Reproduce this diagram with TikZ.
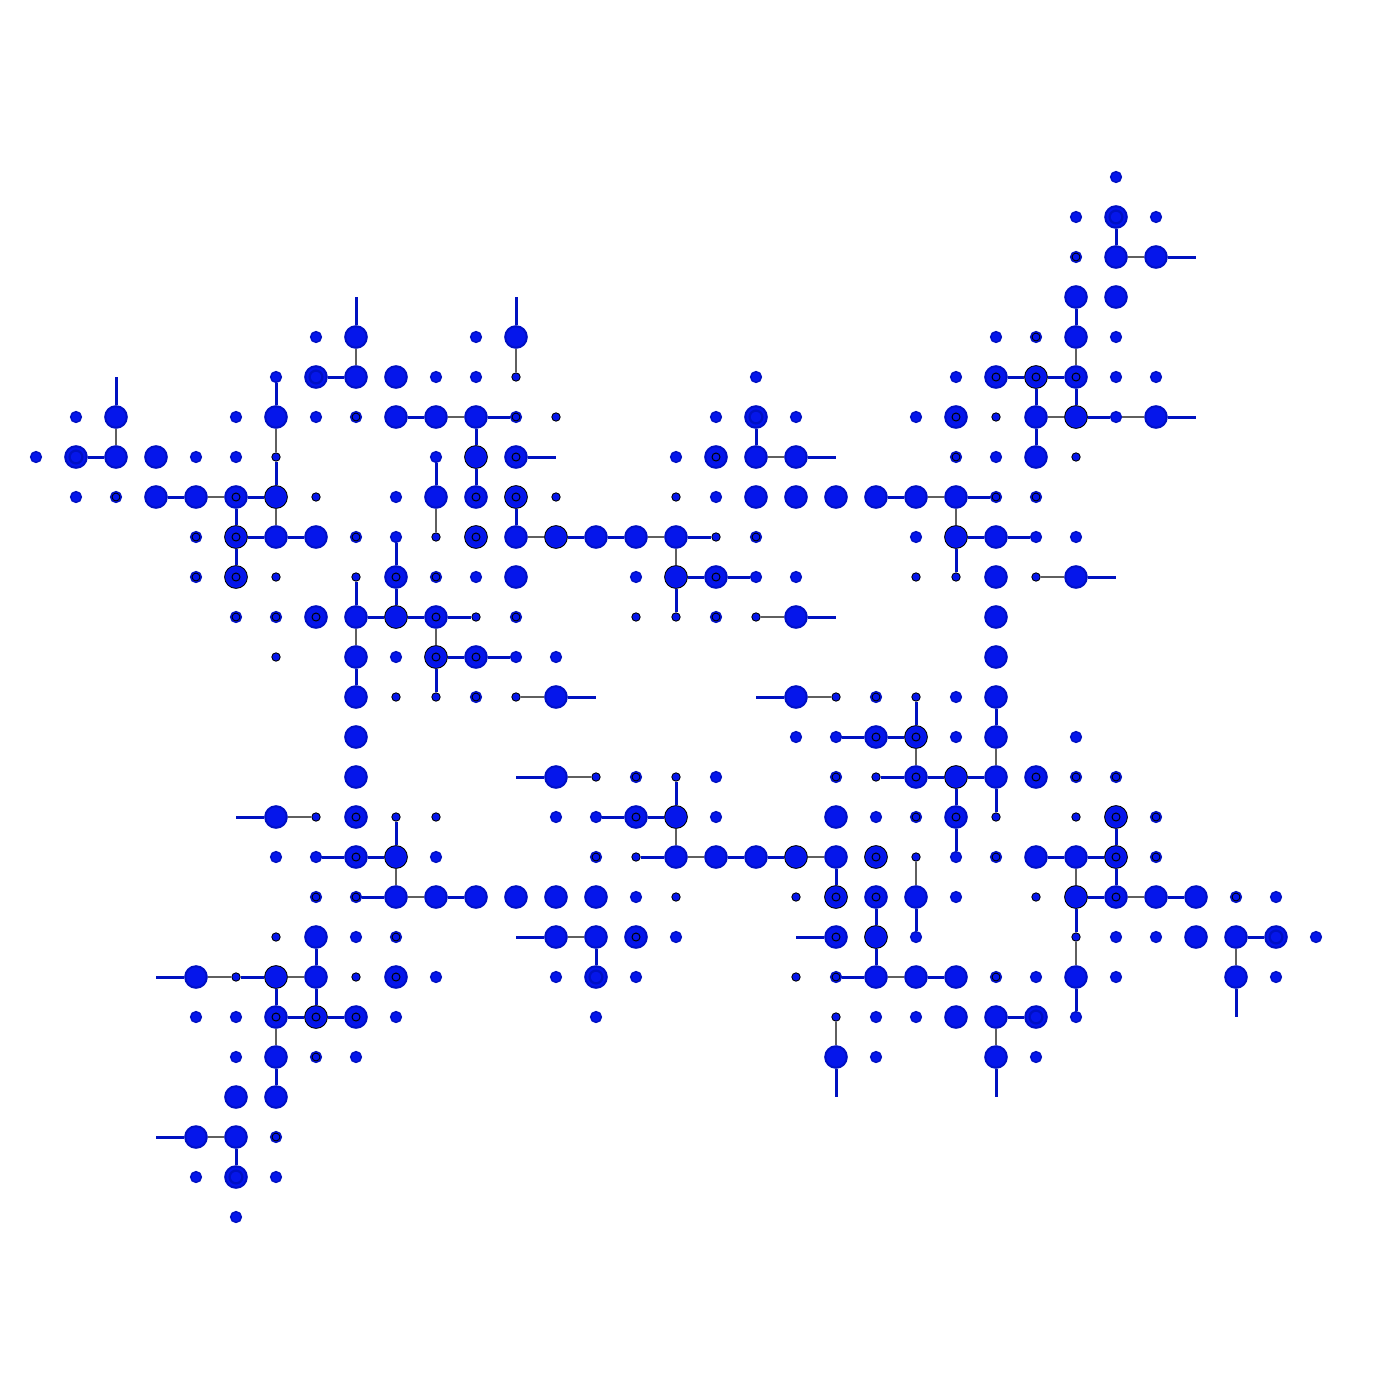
\documentclass[tikz,border=0pt]{standalone}
\usepackage{xcolor}
\usepackage{tikz}
\definecolor{dotBlue}{RGB}{5, 22, 235}
\definecolor{rimBlue}{RGB}{0, 16, 196}
\definecolor{linkBlue}{RGB}{0, 18, 192}
\definecolor{linkGray}{RGB}{95, 95, 95}

\tikzset{
    dot/.style={circle, inner sep=0pt, fill=dotBlue},
    dotL/.style={dot, draw=rimBlue, line width=0.05cm, minimum size=0.54cm},
    dotK/.style={dot, draw=black, line width=0.6pt, minimum size=0.57cm},
    dotS/.style={dot, draw=rimBlue, line width=0.035cm, minimum size=0.27cm},
    dotT/.style={dot, draw=black, line width=0.6pt, minimum size=0.21cm},
    ringed/.style={path picture={\draw[black, line width=0.7pt] (path picture bounding box.center) circle (0.1cm);}},
    dotLo/.style={dotL, ringed},
    dotKo/.style={dotK, ringed},
    dotR/.style={dotS, ringed},
    dotLb/.style={dotL, path picture={\draw[rimBlue, line width=1.6pt] (path picture bounding box.center) circle (0.16cm);}},
    bluelink/.style={linkBlue, line width=0.075cm},
    graylink/.style={linkGray, line width=0.035cm}
}

\begin{document}
\begin{tikzpicture}[x=1cm, y=-1cm]
    \fill[white] (-0.9,-4.425) rectangle (33.925,30.35);
    \foreach \c/\r/\k in {
        27/0/dotS,
        26/1/dotS, 27/1/dotLb, 28/1/dotS,
        26/2/dotR, 27/2/dotL, 28/2/dotL,
        26/3/dotL, 27/3/dotL,
        7/4/dotS, 8/4/dotL, 11/4/dotS, 12/4/dotL, 24/4/dotS, 25/4/dotR, 26/4/dotL, 27/4/dotS,
        6/5/dotS, 7/5/dotLb, 8/5/dotL, 9/5/dotL, 10/5/dotS, 11/5/dotS, 12/5/dotT, 18/5/dotS, 23/5/dotS, 24/5/dotLo, 25/5/dotKo, 26/5/dotLo, 27/5/dotS, 28/5/dotS,
        1/6/dotS, 2/6/dotL, 5/6/dotS, 6/6/dotL, 7/6/dotS, 8/6/dotR, 9/6/dotL, 10/6/dotL, 11/6/dotL, 12/6/dotR, 13/6/dotT, 17/6/dotS, 18/6/dotLb, 19/6/dotS, 22/6/dotS, 23/6/dotLo, 24/6/dotT, 25/6/dotL, 26/6/dotK, 27/6/dotS, 28/6/dotL,
        0/7/dotS, 1/7/dotLb, 2/7/dotL, 3/7/dotL, 4/7/dotS, 5/7/dotS, 6/7/dotT, 10/7/dotS, 11/7/dotK, 12/7/dotLo, 16/7/dotS, 17/7/dotLo, 18/7/dotL, 19/7/dotL, 23/7/dotR, 24/7/dotS, 25/7/dotL, 26/7/dotT,
        1/8/dotS, 2/8/dotR, 3/8/dotL, 4/8/dotL, 5/8/dotLo, 6/8/dotK, 7/8/dotT, 9/8/dotS, 10/8/dotL, 11/8/dotLo, 12/8/dotKo, 13/8/dotT, 16/8/dotT, 17/8/dotS, 18/8/dotL, 19/8/dotL, 20/8/dotL, 21/8/dotL, 22/8/dotL, 23/8/dotL, 24/8/dotR, 25/8/dotR,
        4/9/dotR, 5/9/dotKo, 6/9/dotL, 7/9/dotL, 8/9/dotR, 9/9/dotS, 10/9/dotT, 11/9/dotKo, 12/9/dotL, 13/9/dotK, 14/9/dotL, 15/9/dotL, 16/9/dotL, 17/9/dotT, 18/9/dotR, 22/9/dotS, 23/9/dotK, 24/9/dotL, 25/9/dotS, 26/9/dotS,
        4/10/dotR, 5/10/dotKo, 6/10/dotT, 8/10/dotT, 9/10/dotLo, 10/10/dotR, 11/10/dotS, 12/10/dotL, 15/10/dotS, 16/10/dotK, 17/10/dotLo, 18/10/dotS, 19/10/dotS, 22/10/dotT, 23/10/dotT, 24/10/dotL, 25/10/dotT, 26/10/dotL,
        5/11/dotR, 6/11/dotR, 7/11/dotLo, 8/11/dotL, 9/11/dotK, 10/11/dotLo, 11/11/dotT, 12/11/dotR, 15/11/dotT, 16/11/dotT, 17/11/dotR, 18/11/dotT, 19/11/dotL, 24/11/dotL,
        6/12/dotT, 8/12/dotL, 9/12/dotS, 10/12/dotKo, 11/12/dotLo, 12/12/dotS, 13/12/dotS, 24/12/dotL,
        8/13/dotL, 9/13/dotT, 10/13/dotT, 11/13/dotR, 12/13/dotT, 13/13/dotL, 19/13/dotL, 20/13/dotT, 21/13/dotR, 22/13/dotT, 23/13/dotS, 24/13/dotL,
        8/14/dotL, 19/14/dotS, 20/14/dotS, 21/14/dotLo, 22/14/dotKo, 23/14/dotS, 24/14/dotL, 26/14/dotS,
        8/15/dotL, 13/15/dotL, 14/15/dotT, 15/15/dotR, 16/15/dotT, 17/15/dotS, 20/15/dotR, 21/15/dotT, 22/15/dotLo, 23/15/dotK, 24/15/dotL, 25/15/dotLo, 26/15/dotR, 27/15/dotR,
        6/16/dotL, 7/16/dotT, 8/16/dotLo, 9/16/dotT, 10/16/dotT, 13/16/dotS, 14/16/dotS, 15/16/dotLo, 16/16/dotK, 17/16/dotS, 20/16/dotL, 21/16/dotS, 22/16/dotR, 23/16/dotLo, 24/16/dotT, 26/16/dotT, 27/16/dotKo, 28/16/dotR,
        6/17/dotS, 7/17/dotS, 8/17/dotLo, 9/17/dotK, 10/17/dotS, 14/17/dotR, 15/17/dotT, 16/17/dotL, 17/17/dotL, 18/17/dotL, 19/17/dotK, 20/17/dotL, 21/17/dotKo, 22/17/dotT, 23/17/dotS, 24/17/dotR, 25/17/dotL, 26/17/dotL, 27/17/dotKo, 28/17/dotR,
        7/18/dotR, 8/18/dotR, 9/18/dotL, 10/18/dotL, 11/18/dotL, 12/18/dotL, 13/18/dotL, 14/18/dotL, 15/18/dotS, 16/18/dotT, 19/18/dotT, 20/18/dotKo, 21/18/dotLo, 22/18/dotL, 23/18/dotS, 25/18/dotT, 26/18/dotK, 27/18/dotLo, 28/18/dotL, 29/18/dotL, 30/18/dotR, 31/18/dotS,
        6/19/dotT, 7/19/dotL, 8/19/dotS, 9/19/dotR, 13/19/dotL, 14/19/dotL, 15/19/dotLo, 16/19/dotS, 20/19/dotLo, 21/19/dotK, 22/19/dotS, 26/19/dotT, 27/19/dotS, 28/19/dotS, 29/19/dotL, 30/19/dotL, 31/19/dotLb, 32/19/dotS,
        4/20/dotL, 5/20/dotT, 6/20/dotK, 7/20/dotL, 8/20/dotT, 9/20/dotLo, 10/20/dotS, 13/20/dotS, 14/20/dotLb, 15/20/dotS, 19/20/dotT, 20/20/dotR, 21/20/dotL, 22/20/dotL, 23/20/dotL, 24/20/dotR, 25/20/dotS, 26/20/dotL, 27/20/dotS, 30/20/dotL, 31/20/dotS,
        4/21/dotS, 5/21/dotS, 6/21/dotLo, 7/21/dotKo, 8/21/dotLo, 9/21/dotS, 14/21/dotS, 20/21/dotT, 21/21/dotS, 22/21/dotS, 23/21/dotL, 24/21/dotL, 25/21/dotLb, 26/21/dotS,
        5/22/dotS, 6/22/dotL, 7/22/dotR, 8/22/dotS, 20/22/dotL, 21/22/dotS, 24/22/dotL, 25/22/dotS,
        5/23/dotL, 6/23/dotL,
        4/24/dotL, 5/24/dotL, 6/24/dotR,
        4/25/dotS, 5/25/dotLb, 6/25/dotS,
        5/26/dotS}
        \node[\k] (d-\c-\r) at (\c,\r) {};
    \foreach \c/\r in {8/3, 12/3, 2/5, 13/7, 20/7, 20/11, 29/2, 29/6, 27/10, 14/13, 18/13, 12/15, 5/16, 12/19, 19/19, 20/23, 24/23, 30/21, 3/20, 3/24}
        \coordinate (e-\c-\r) at (\c,\r);
    \foreach \a/\b in {8-4/8-5, 12-4/12-5, 2-6/2-7, 6-6/6-7, 4-8/5-8, 6-8/6-9, 10-6/11-6, 10-8/10-9, 12-9/13-9, 15-9/16-9, 16-9/16-10, 18-7/19-7, 22-8/23-8, 23-8/23-9, 18-11/19-11, 27-2/28-2, 26-4/26-5, 25-6/26-6, 27-6/28-6, 25-10/26-10, 8-11/8-12, 10-11/10-12, 6-16/7-16, 9-17/9-18, 12-13/13-13, 19-13/20-13, 13-15/14-15, 16-16/16-17, 16-17/17-17, 19-17/20-17, 22-14/22-15, 24-14/24-15, 22-17/22-18, 26-17/26-18, 27-18/28-18, 9-18/10-18, 13-19/14-19, 26-19/26-20, 21-20/22-20, 20-21/20-22, 24-21/24-22, 30-19/30-20, 4-20/5-20, 6-20/7-20, 6-21/6-22, 4-24/5-24}
        \draw[graylink] (d-\a) -- (d-\b);
    \foreach \a/\b in {7-5/8-5, 6-6/6-5, 1-7/2-7, 6-7/6-8, 3-8/4-8, 5-8/6-8, 5-8/5-9, 5-9/6-9, 6-9/7-9, 5-9/5-10, 9-6/10-6, 11-6/12-6, 11-6/11-7, 11-7/11-8, 10-7/10-8, 12-8/12-9, 13-9/14-9, 14-9/15-9, 9-9/9-10, 9-10/9-11, 8-10/8-11, 8-11/9-11, 9-11/10-11, 10-11/11-11, 8-12/8-13, 10-12/11-12, 10-12/10-13, 11-12/12-12, 18-6/18-7, 21-8/22-8, 23-8/24-8, 16-9/17-9, 23-9/24-9, 23-9/23-10, 16-10/17-10, 16-10/16-11, 17-10/18-10, 27-1/27-2, 26-3/26-4, 24-5/25-5, 25-5/26-5, 25-5/25-6, 26-5/26-6, 25-6/25-7, 26-6/27-6, 24-9/25-9, 20-14/21-14, 21-14/22-14, 22-13/22-14, 24-13/24-14, 16-15/16-16, 14-16/15-16, 15-16/16-16, 15-17/16-17, 17-17/18-17, 18-17/19-17, 20-17/20-18, 21-15/22-15, 22-15/23-15, 23-15/24-15, 23-15/23-16, 24-15/24-16, 23-16/23-17, 27-16/27-17, 25-17/26-17, 26-17/27-17, 27-17/27-18, 9-16/9-17, 7-17/8-17, 8-17/9-17, 8-18/9-18, 10-18/11-18, 14-19/14-20, 21-18/21-19, 21-19/21-20, 22-18/22-19, 26-18/27-18, 26-18/26-19, 26-20/26-21, 20-20/21-20, 22-20/23-20, 24-21/25-21, 28-18/29-18, 30-19/31-19, 7-19/7-20, 5-20/6-20, 6-20/6-21, 7-20/7-21, 6-21/7-21, 7-21/8-21, 6-22/6-23, 5-24/5-25}
        \draw[bluelink] (d-\a) -- (d-\b);
    \foreach \a/\b in {8-4/8-3, 12-4/12-3, 2-6/2-5, 12-7/13-7, 19-7/20-7, 19-11/20-11, 28-2/29-2, 28-6/29-6, 26-10/27-10, 13-13/14-13, 19-13/18-13, 13-15/12-15, 6-16/5-16, 13-19/12-19, 20-19/19-19, 20-22/20-23, 24-22/24-23, 30-20/30-21, 4-20/3-20, 4-24/3-24}
        \draw[bluelink] (d-\a) -- (e-\b);
\end{tikzpicture}
\end{document}
